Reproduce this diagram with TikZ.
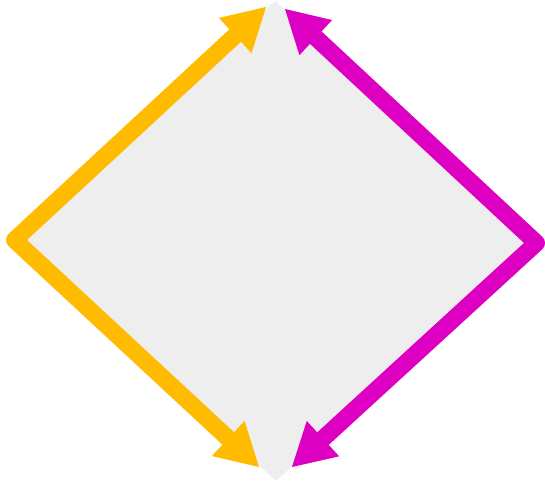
\documentclass[tikz,border=0pt]{standalone}
\usetikzlibrary{arrows.meta}
\definecolor{cyel}{HTML}{FFBB00}
\definecolor{cmag}{HTML}{DD00C2}
\definecolor{cgray}{HTML}{EEEEEE}
\tikzset{
  edgeline/.style={line width=17pt, line join=round, line cap=round,
    {Triangle[length=42pt,width=48pt,line width=0pt]}-{Triangle[length=42pt,width=48pt,line width=0pt]}}
}
\begin{document}
\begin{tikzpicture}[x=1pt,y=-1pt]
\useasboundingbox (0,0) rectangle (545,485);
\coordinate (T) at (275,1);
\coordinate (B) at (276,481);
\coordinate (L) at (14.5,240);
\coordinate (R) at (536.5,243);
\coordinate (yt) at (266,7);
\coordinate (yb) at (259,467);
\coordinate (mt) at (285,9);
\coordinate (mb) at (292,467);
\fill[cgray] (T) -- (L) -- (B) -- (R) -- cycle;
\draw[edgeline, cyel] (yt) -- (L) -- (yb);
\draw[edgeline, cmag] (mt) -- (R) -- (mb);
\end{tikzpicture}
\end{document}
